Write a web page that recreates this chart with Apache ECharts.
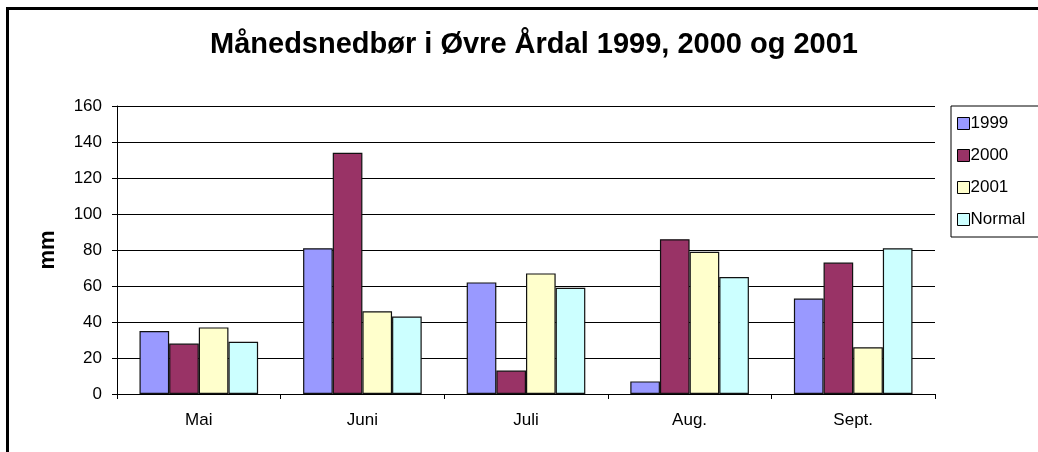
<!DOCTYPE html>
<html>
<head>
<meta charset="utf-8">
<style>html,body{margin:0;padding:0;background:#fff;}#c{width:1038px;height:452px;}</style>
<script src="https://cdn.jsdelivr.net/npm/echarts@6/dist/echarts.min.js"></script>
</head>
<body>
<div id="c"></div>
<script>
const categories = ['Mai', 'Juni', 'Juli', 'Aug.', 'Sept.'];
const seriesNames = ['1999', '2000', '2001', 'Normal'];
const values1999 = [35, 81, 62, 7, 53];
const values2000 = [28, 134, 13, 86, 73];
const values2001 = [37, 46, 67, 79, 26];
const valuesNormal = [29, 43, 59, 65, 81];
const colors = ['#9999FF', '#993366', '#FFFFCC', '#CCFFFF'];
const titleText = 'Månedsnedbør i Øvre Årdal 1999, 2000 og 2001';
const yName = 'mm';

const allValues = [values1999, values2000, values2001, valuesNormal];
const chart = echarts.init(document.getElementById('c'), null, {renderer: 'canvas'});
const font = 'Liberation Sans, Arial, sans-serif';
chart.setOption({
  animation: false,
  backgroundColor: '#fff',
  textStyle: {fontFamily: font},
  title: {
    text: titleText, left: 205, top: 25,
    textStyle: {fontFamily: font, fontSize: 29, fontWeight: 'bold', color: '#000'}
  },
  graphic: [{
    type: 'rect', z: 100, silent: true,
    shape: {x: 7.5, y: 8.5, width: 1100, height: 500},
    style: {fill: 'none', stroke: '#000', lineWidth: 3}
  }],
  legend: {
    orient: 'vertical', left: 951, top: 106,
    data: seriesNames,
    itemWidth: 12, itemHeight: 12, itemGap: 15,
    icon: 'rect',
    borderColor: '#000', borderWidth: 1,
    padding: [9, 40, 9, 6],
    textStyle: {fontFamily: font, fontSize: 17, color: '#000', padding: [0, 0, 0, -4]},
    itemStyle: {borderColor: '#000', borderWidth: 1}
  },
  grid: {left: 117, right: 103, top: 106, bottom: 58, containLabel: false},
  xAxis: {
    type: 'category', data: categories,
    axisLine: {lineStyle: {color: '#000', width: 1}},
    axisTick: {show: true, alignWithLabel: false, length: 5, lineStyle: {color: '#000'}},
    axisLabel: {color: '#000', fontSize: 17, fontFamily: font, margin: 18}
  },
  yAxis: {
    type: 'value', min: 0, max: 160, interval: 20,
    name: yName, nameLocation: 'middle', nameGap: 58, nameRotate: 90,
    nameTextStyle: {fontFamily: font, fontSize: 22, fontWeight: 'bold', color: '#000'},
    axisLine: {show: true, lineStyle: {color: '#000', width: 1}},
    axisTick: {show: true, length: 5, lineStyle: {color: '#000'}},
    axisLabel: {color: '#000', fontSize: 17, fontFamily: font, margin: 15},
    splitLine: {show: true, lineStyle: {color: '#000', width: 1}}
  },
  series: seriesNames.map((n, i) => ({
    name: n, type: 'bar', data: allValues[i],
    barGap: '0%', barCategoryGap: '27.5%',
    itemStyle: {color: colors[i], borderColor: '#111', borderWidth: 1.2}
  }))
});
</script>
</body>
</html>
